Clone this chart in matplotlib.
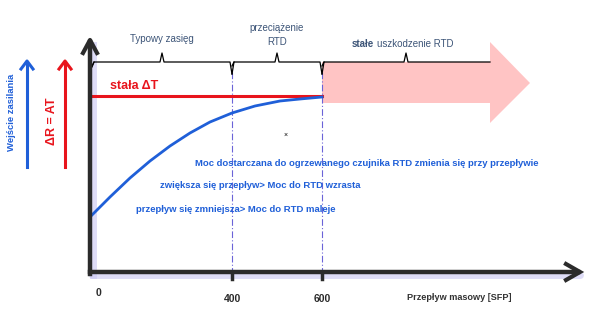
import numpy as np
import matplotlib.pyplot as plt
from matplotlib.patches import Polygon

plt.rcParams['font.family'] = ['Liberation Sans', 'DejaVu Sans']

# współrzędne rysunku (piksele obrazu, oś y w dół)
x_ticks = [232, 322]
x_tick_labels = ['400', '600']
zero_label = '0'

# krzywa mocy (niebieska)
curve_x = [90, 110, 130, 150, 170, 190, 210, 232, 255, 280, 300, 322]
curve_y = [217, 197, 178, 161, 146, 133, 122, 113, 106, 101, 99, 97]

red_y = 96

braces = [(92, 232, 'Typowy zasięg'), (232, 322, 'przeciążenie\nRTD'), (322, 490, None)]

blue_lines = [
    (195, 163, 'Moc dostarczana do ogrzewanego czujnika RTD zmienia się przy przepływie'),
    (160, 186, 'zwiększa się przepływ> Moc do RTD wzrasta'),
    (136, 209, 'przepływ się zmniejsza> Moc do RTD maleje'),
]

BLUE = '#1f5fd8'
RED = '#e8141c'
AX = '#2b2b2b'
TXT = '#3d5578'

fig = plt.figure(figsize=(6.05, 3.21), dpi=100)
ax = fig.add_axes([0, 0, 1, 1])
ax.set_xlim(0, 605)
ax.set_ylim(321, 0)
ax.axis('off')

# różowa strzałka
ax.add_patch(Polygon([[322, 62], [490, 62], [490, 42], [530, 83], [490, 123],
                      [490, 103], [322, 103]], closed=True, fc='#ffc4c4', ec='none', zorder=1))

# linie przerywane
for xt in x_ticks:
    ax.plot([xt, xt], [72, 272], color='#6b63d8', lw=0.8, ls=(0, (6, 2, 1, 2)), zorder=2)

# cień osi
ax.plot([92, 580], [275, 275], color='#c9c6f2', lw=5, alpha=0.6, solid_capstyle='round', zorder=2)
ax.plot([93, 93], [45, 275], color='#c9c6f2', lw=5, alpha=0.6, zorder=2)

# osie
ax.plot([90, 578], [272, 272], color=AX, lw=3.2, zorder=4)
ax.plot([566, 580, 566], [264, 272, 280], color=AX, lw=3, solid_joinstyle='miter', zorder=4)
ax.plot([90, 90], [274, 42], color=AX, lw=3.2, zorder=4)
ax.plot([83, 90, 97], [53, 40, 53], color=AX, lw=3, zorder=4)
for xt in x_ticks:
    ax.plot([xt, xt], [272, 279], color=AX, lw=2.5, zorder=4)

# linie
ax.plot([92, 322], [red_y, red_y], color=RED, lw=2.2, zorder=3)
ax.plot(curve_x, curve_y, color=BLUE, lw=2, zorder=3)
ax.text(110, 86, 'stała ΔT', color=RED, fontsize=9, fontweight='bold', va='center', ha='left')

# klamry
def brace(x0, x1, y=62):
    xm = (x0 + x1) / 2
    ax.plot([x0, x0 + 2, xm - 2, xm, xm + 2, x1 - 2, x1],
            [y + 4, y, y, y - 9, y, y, y + 12 if x1 < 400 else y], color='black', lw=0.9, zorder=3)
    ax.plot([x0, x0 + 2], [y + 12 if x0 > 100 else y + 5, y], color='black', lw=0.9, zorder=3)
    return xm

for x0, x1, lab in braces:
    xm = brace(x0, x1)
    if lab:
        ax.text(xm, 39 if '\n' not in lab else 35, lab, color=TXT, fontsize=7,
                ha='center', va='center', linespacing=1.5)
ax.text(374, 44, 'stałe', color=TXT, fontsize=7, fontweight='bold', ha='right', va='center')
ax.text(377, 44, 'uszkodzenie RTD', color=TXT, fontsize=7, ha='left', va='center')

# teksty niebieskie
for tx, ty, s in blue_lines:
    ax.text(tx, ty, s, color=BLUE, fontsize=6.8, fontweight='bold', ha='left', va='center')
ax.text(286, 135, '×', color='black', fontsize=5, ha='center', va='center')

# lewe strzałki
for xa, col in [(27, BLUE), (65, RED)]:
    ax.plot([xa, xa], [167, 62], color=col, lw=2.2, zorder=3)
    ax.plot([xa - 6, xa, xa + 6], [69, 61, 69], color=col, lw=2.2, zorder=3)
ax.text(12, 112, 'Wejście zasilania', color=BLUE, fontsize=6.8, fontweight='bold',
        rotation=90, ha='center', va='center')
ax.text(52, 121, 'ΔR = AT', color=RED, fontsize=9, fontweight='bold',
        rotation=90, ha='center', va='center')

# etykiety osi x
ax.text(98, 293, zero_label, color=AX, fontsize=7.5, fontweight='bold', ha='center', va='center')
for xt, lab in zip(x_ticks, x_tick_labels):
    ax.text(xt, 299, lab, color=AX, fontsize=7.5, fontweight='bold', ha='center', va='center')
ax.text(459, 298, 'Przepływ masowy [SFP]', color='#333333', fontsize=6.6, fontweight='bold',
        ha='center', va='center')

fig.savefig('out.png', dpi=100)
